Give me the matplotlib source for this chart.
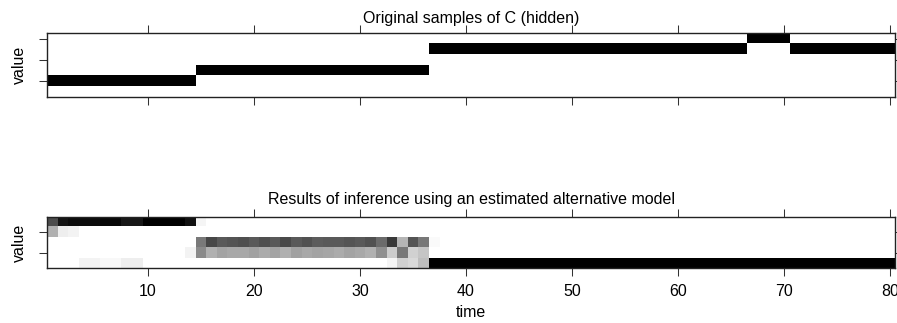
import numpy as np
import matplotlib
matplotlib.use("Agg")
import matplotlib.pyplot as plt

plt.rcParams['font.family'] = ['Liberation Sans', 'DejaVu Sans']
plt.rcParams['font.size'] = 11.5

# time steps
n_time = 80
time = np.arange(1, n_time + 1)

# original hidden state C, given as runs (state, length)
c_states = [2, 3, 5, 6, 5]
c_runs = [14, 22, 30, 4, 10]
n_top_rows = 6

# inferred state probabilities, one list per row (row 1 = bottom)
p_row5 = [0.70, 0.92, 0.95, 0.95, 0.95, 0.97, 0.97, 0.91, 0.91, 1.0,
          1.0, 1.0, 1.0, 0.93, 0.04, 0, 0, 0, 0, 0,
          0, 0, 0, 0, 0, 0, 0, 0, 0, 0,
          0, 0, 0, 0, 0, 0, 0]
p_row4 = [0.31, 0.07, 0.05, 0, 0, 0, 0, 0, 0, 0,
          0, 0, 0, 0, 0, 0, 0, 0, 0, 0,
          0, 0, 0, 0, 0, 0, 0, 0, 0, 0,
          0, 0, 0, 0, 0, 0, 0]
p_row3 = [0, 0, 0, 0, 0, 0, 0, 0, 0, 0,
          0, 0, 0, 0, 0.52, 0.72, 0.65, 0.67, 0.69, 0.65,
          0.69, 0.65, 0.71, 0.65, 0.68, 0.64, 0.65, 0.65, 0.67, 0.65,
          0.68, 0.58, 0.77, 0.29, 0.67, 0.53, 0.02]
p_row2 = [0, 0, 0, 0, 0, 0, 0, 0, 0, 0,
          0, 0, 0, 0.05, 0.46, 0.31, 0.36, 0.34, 0.34, 0.37,
          0.33, 0.36, 0.31, 0.37, 0.34, 0.36, 0.35, 0.33, 0.36, 0.34,
          0.31, 0.44, 0.20, 0.53, 0.18, 0.23, 0]
p_row1 = [0, 0, 0, 0.05, 0.05, 0.03, 0.03, 0.07, 0.07, 0,
          0, 0, 0, 0, 0, 0, 0, 0, 0, 0,
          0, 0, 0, 0, 0, 0, 0, 0, 0, 0,
          0, 0, 0.04, 0.18, 0.15, 0.26, 1.0]
# from time 38 on: state 1 with probability 1
tail_state = 1

xticks = [10, 20, 30, 40, 50, 60, 70, 80]

# build the matrices
c_seq = np.repeat(c_states, c_runs)
top = np.zeros((n_top_rows, n_time))
top[c_seq - 1, time - 1] = 1.0

n_known = len(p_row1)
bottom = np.zeros((5, n_time))
for r, row in enumerate([p_row1, p_row2, p_row3, p_row4, p_row5]):
    bottom[r, :n_known] = row
bottom[tail_state - 1, n_known:] = 1.0

W, H = 897, 323
fig = plt.figure(figsize=(W / 100, H / 100), dpi=100)

left = 47.3 / W
width = (895.3 - 47.3) / W
ax1 = fig.add_axes([left, 1 - 97.3 / H, width, (97.3 - 33.3) / H])
ax2 = fig.add_axes([left, 1 - 268.3 / H, width, (268.3 - 216.7) / H])


def panel(ax, mat, yticks, labels):
    nrow = mat.shape[0]
    ax.imshow(mat, origin='lower', aspect='auto', cmap='gray_r', vmin=0, vmax=1,
              interpolation='nearest',
              extent=(0.5, n_time + 0.5, 0.5, nrow + 0.5))
    ax.set_xlim(0.5, n_time + 0.5)
    ax.set_ylim(0.5, nrow + 0.5)
    ax.set_xticks(xticks)
    ax.set_yticks(yticks)
    ax.tick_params(direction='out', length=5.8, width=0.75, color='#333333',
                   top=True, right=True, labelleft=False, labelbottom=labels,
                   pad=5.5, labelsize=11.5)
    for s in ax.spines.values():
        s.set_linewidth(1.0)
        s.set_color('#222222')


panel(ax1, top, [2, 4, 6], False)
panel(ax2, bottom, [2, 4], True)

xc = (47.3 + 895.3) / 2 / W
fig.text(xc, 1 - 22.7 / H, 'Original samples of C (hidden)', ha='center', va='baseline')
fig.text(xc, 1 - 204 / H, 'Results of inference using an estimated alternative model',
         ha='center', va='baseline')
fig.text(xc, 1 - 316.7 / H, 'time', ha='center', va='baseline')
fig.text(19.9 / W, 1 - 65.3 / H, 'value', rotation=90, ha='center', va='center')
fig.text(19.9 / W, 1 - 242.5 / H, 'value', rotation=90, ha='center', va='center')

fig.savefig('out.png', dpi=100)
